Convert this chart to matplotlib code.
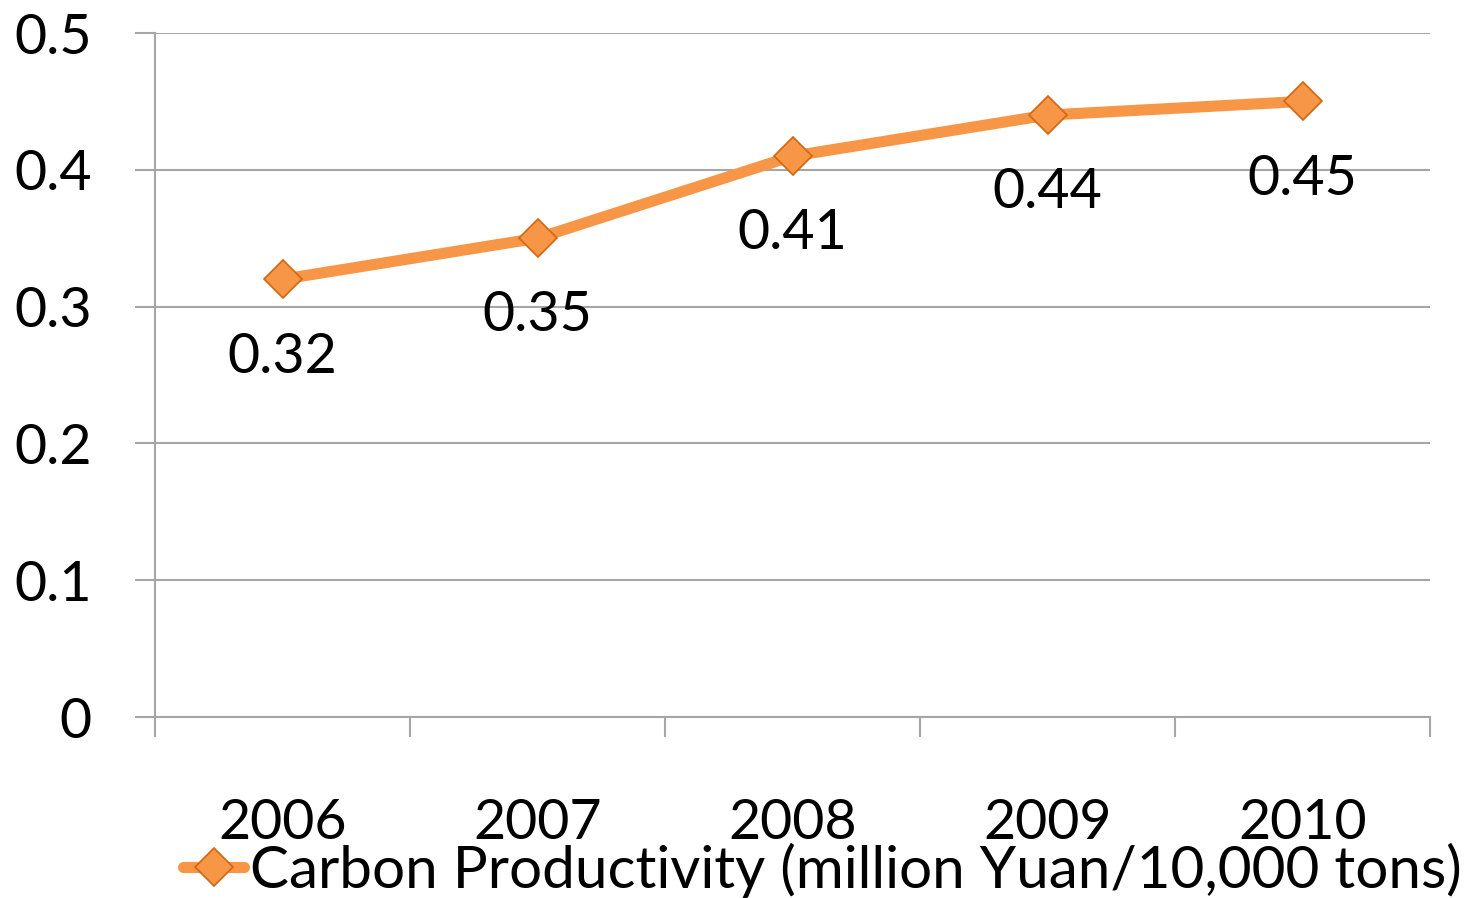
import matplotlib.pyplot as plt
from matplotlib.lines import Line2D

plt.rcParams['font.family'] = ['Lato', 'DejaVu Sans']

years = ["2006", "2007", "2008", "2009", "2010"]
productivity = [0.32, 0.35, 0.41, 0.44, 0.45]
value_labels = ["0.32", "0.35", "0.41", "0.44", "0.45"]
y_ticks = [0, 0.1, 0.2, 0.3, 0.4, 0.5]
y_ticklabels = ["0", "0.1", "0.2", "0.3", "0.4", "0.5"]

line_color = "#F79646"
edge_color = "#D2670F"
grid_color = "#A6A6A6"
fs = 40

W, H = 1472, 898
fig = plt.figure(figsize=(W / 100, H / 100), dpi=100)
ax = fig.add_axes([155 / W, (H - 717) / H, 1275 / W, 684 / H])

x = list(range(len(years)))
ax.plot(x, productivity, color=line_color, lw=8, solid_capstyle="round",
        marker="D", markersize=19, markerfacecolor=line_color,
        markeredgecolor=edge_color, markeredgewidth=1.2, zorder=3)

for xi, v, lab in zip(x, productivity, value_labels):
    ax.annotate(lab, (xi, v), xytext=(0, -56), textcoords="offset points",
                ha="center", va="center", fontsize=fs, color="black", zorder=4)

ax.set_xlim(-0.5, len(years) - 0.5)
ax.set_ylim(0, 0.5)

# y axis: gridlines and outward ticks
ax.set_yticks(y_ticks)
ax.set_yticklabels(y_ticklabels, fontsize=fs)
ax.tick_params(axis="y", length=14.4, width=1.5, color=grid_color, pad=31)
ax.grid(axis="y", color=grid_color, lw=1.5)
ax.set_axisbelow(True)

# x axis: labels at category centres, tick marks at category boundaries
ax.set_xticks(x)
ax.set_xticklabels(years, fontsize=fs)
ax.tick_params(axis="x", which="major", length=0, pad=58)
ax.set_xticks([i - 0.5 for i in range(len(years) + 1)], minor=True)
ax.tick_params(axis="x", which="minor", length=14.4, width=1.5, color=grid_color)

for side in ["top", "right"]:
    ax.spines[side].set_visible(False)
for side in ["left", "bottom"]:
    ax.spines[side].set_color(grid_color)
    ax.spines[side].set_linewidth(1.5)

handle = Line2D([], [], color=line_color, lw=8, solid_capstyle="round",
                marker="D", markersize=19, markerfacecolor=line_color,
                markeredgecolor=edge_color, markeredgewidth=1.2)
fig.legend([handle], ["Carbon Productivity (million Yuan/10,000 tons)"],
           loc="center left", bbox_to_anchor=(183 / W, 1 - 870 / H),
           frameon=False, fontsize=42, borderpad=0, borderaxespad=0,
           handlelength=1.05, handletextpad=0.1)

fig.savefig("out.png", dpi=100)
